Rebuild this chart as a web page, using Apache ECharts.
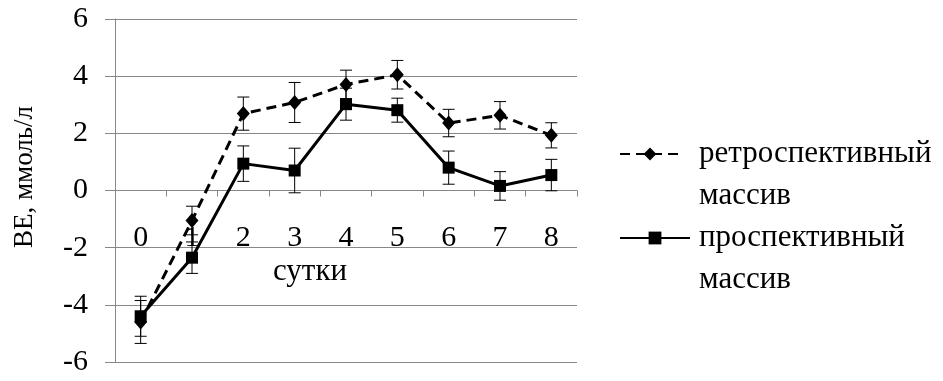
<!DOCTYPE html>
<html>
<head>
<meta charset="utf-8">
<script src="https://cdn.jsdelivr.net/npm/echarts@6/dist/echarts.min.js"></script>
<style>
html,body{margin:0;padding:0;background:#fff;}
#chart{width:943px;height:381px;}
</style>
</head>
<body>
<div id="chart"></div>
<script>
const categories = ['0','1','2','3','4','5','6','7','8'];
const retroName = 'ретроспективный массив';
const prospName = 'проспективный массив';
const retroValues = [-4.6, -1.05, 2.69, 3.08, 3.71, 4.05, 2.36, 2.63, 1.93];
const retroErr    = [0.75, 0.5, 0.58, 0.7, 0.5, 0.5, 0.48, 0.48, 0.44];
const prospValues = [-4.4, -2.35, 0.94, 0.70, 3.02, 2.81, 0.80, 0.16, 0.54];
const prospErr    = [0.7, 0.55, 0.62, 0.78, 0.56, 0.42, 0.58, 0.5, 0.55];
const yTicks = { min: -6, max: 6, interval: 2 };
const xTitle = 'сутки';
const yTitle = 'ВЕ, ммоль/л';

const FONT = 'Liberation Serif';
const GRAY = '#878787';

function errData(vals, errs) {
  return vals.map((v, i) => [i, v - errs[i], v + errs[i]]);
}
function renderErr(params, api) {
  const x = api.value(0);
  const lo = api.coord([x, api.value(1)]);
  const hi = api.coord([x, api.value(2)]);
  const cap = 6;
  const style = { stroke: '#000', lineWidth: 1, fill: null };
  return {
    type: 'group',
    children: [
      { type: 'line', shape: { x1: lo[0], y1: lo[1], x2: hi[0], y2: hi[1] }, style },
      { type: 'line', shape: { x1: lo[0] - cap, y1: lo[1], x2: lo[0] + cap, y2: lo[1] }, style },
      { type: 'line', shape: { x1: hi[0] - cap, y1: hi[1], x2: hi[0] + cap, y2: hi[1] }, style }
    ]
  };
}

const chart = echarts.init(document.getElementById('chart'), null, { renderer: 'canvas' });
function legendText(padLeft) {
  return { fontFamily: FONT, fontSize: 31, color: '#000', lineHeight: 42, padding: [0, 0, 0, padLeft] };
}
const fmt = n => ' \n' + n.replace(' ', '\n');
chart.setOption({
  animation: false,
  textStyle: { fontFamily: FONT },
  grid: { left: 115, right: 366, top: 19, bottom: 19, containLabel: false, outerBoundsMode: 'none' },
  legend: [
    {
      data: [retroName], left: 614, top: 86, orient: 'vertical',
      itemWidth: 60, itemHeight: 16, textStyle: legendText(14), formatter: fmt
    },
    {
      data: [prospName], left: 614, top: 170, orient: 'vertical',
      itemWidth: 70, itemHeight: 16, textStyle: legendText(4), formatter: fmt
    }
  ],
  xAxis: {
    type: 'category',
    data: categories,
    boundaryGap: true,
    position: 'bottom',
    offset: -171.5,
    axisLine: { onZero: false, lineStyle: { color: GRAY, width: 1 } },
    axisTick: { show: true, inside: false, length: 6, lineStyle: { color: GRAY } },
    axisLabel: { fontFamily: FONT, fontSize: 30, color: '#000', margin: 33 },
    splitLine: { show: false }
  },
  yAxis: {
    type: 'value',
    min: yTicks.min, max: yTicks.max, interval: yTicks.interval,
    axisLine: { show: true, onZero: false, lineStyle: { color: GRAY, width: 1 } },
    axisTick: { show: true, inside: false, length: 10, lineStyle: { color: GRAY } },
    axisLabel: { fontFamily: FONT, fontSize: 30, color: '#000', margin: 27 },
    splitLine: { show: true, lineStyle: { color: GRAY, width: 1 } }
  },
  graphic: [
    {
      type: 'text', left: 273, top: 256,
      style: { text: xTitle, fontFamily: FONT, fontSize: 31, fill: '#000' }
    },
    {
      type: 'text', x: 25, y: 177, rotation: Math.PI / 2,
      style: { text: yTitle, fontFamily: FONT, fontSize: 27, fill: '#000', align: 'center', verticalAlign: 'middle' }
    }
  ],
  series: [
    {
      name: retroName, type: 'line', data: retroValues,
      symbol: 'diamond', symbolSize: [13, 15],
      lineStyle: { color: '#000', width: 3, type: [10, 6] },
      itemStyle: { color: '#000' }, z: 3
    },
    {
      name: prospName, type: 'line', data: prospValues,
      symbol: 'rect', symbolSize: 12,
      lineStyle: { color: '#000', width: 3, type: 'solid' },
      itemStyle: { color: '#000' }, z: 3
    },
    {
      type: 'custom', name: 'retroErr', data: errData(retroValues, retroErr),
      renderItem: renderErr, z: 4, silent: true
    },
    {
      type: 'custom', name: 'prospErr', data: errData(prospValues, prospErr),
      renderItem: renderErr, z: 4, silent: true
    }
  ]
});
</script>
</body>
</html>
